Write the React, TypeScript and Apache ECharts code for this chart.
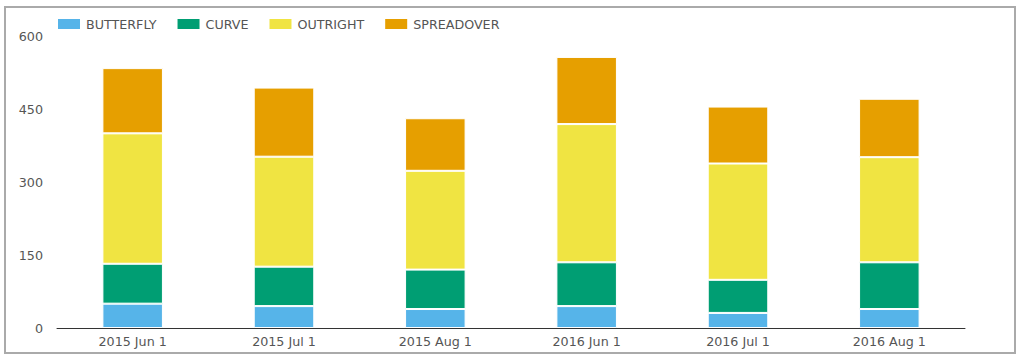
import React, { useEffect, useRef } from "react";
import * as echarts from "echarts";

const categories = ["2015 Jun 1", "2015 Jul 1", "2015 Aug 1", "2016 Jun 1", "2016 Jul 1", "2016 Aug 1"];
const butterfly = [50, 45, 39, 45, 31, 39];
const curve = [82, 81, 81, 90, 68, 96];
const outright = [268, 226, 203, 284, 239, 216];
const spreadover = [134, 142, 108, 138, 117, 120];
const yTicks = [0, 150, 300, 450, 600];

const FONT = "DejaVu Sans";

export default function App() {
  const ref = useRef<HTMLDivElement>(null);
  useEffect(() => {
    document.body.style.margin = "0";
    const chart = echarts.init(ref.current!, null, { renderer: "svg" });
    const mk = (name: string, data: number[], color: string) => ({
      name,
      type: "bar",
      stack: "total",
      data,
      barWidth: "40%",
      itemStyle: { color, borderColor: "#fff", borderWidth: 1 },
    });
    chart.setOption({
      animation: false,
      textStyle: { fontFamily: FONT },
      graphic: [
        {
          type: "rect",
          shape: { x: 5, y: 7, width: 1010, height: 346 },
          style: { fill: "none", stroke: "#aaa", lineWidth: 2 },
          silent: true,
        },
      ],
      legend: {
        left: 51,
        top: 12,
        itemWidth: 24,
        itemHeight: 12,
        itemGap: 19,
        icon: "rect",
        textStyle: { color: "#555", fontSize: 12.7, fontFamily: FONT },
        data: ["BUTTERFLY", "CURVE", "OUTRIGHT", "SPREADOVER"],
      },
      grid: { left: 57, right: 59, top: 36, bottom: 34, containLabel: false },
      xAxis: {
        type: "category",
        data: categories,
        axisLine: { lineStyle: { color: "#333", width: 1 } },
        axisTick: { show: false },
        axisLabel: { color: "#555", fontSize: 12.7, fontFamily: FONT, margin: 7 },
      },
      yAxis: {
        type: "value",
        min: yTicks[0],
        max: yTicks[yTicks.length - 1],
        interval: 150,
        axisLine: { show: false },
        axisTick: { show: false },
        splitLine: { show: false },
        axisLabel: { color: "#555", fontSize: 12.7, fontFamily: FONT, margin: 14 },
      },
      series: [
        mk("BUTTERFLY", butterfly, "#56B4E9"),
        mk("CURVE", curve, "#009E73"),
        mk("OUTRIGHT", outright, "#F0E442"),
        mk("SPREADOVER", spreadover, "#E69F00"),
      ],
    });
    return () => chart.dispose();
  }, []);
  return <div ref={ref} style={{ position: "absolute", left: 0, top: 0, width: 1024, height: 362 }} />;
}
